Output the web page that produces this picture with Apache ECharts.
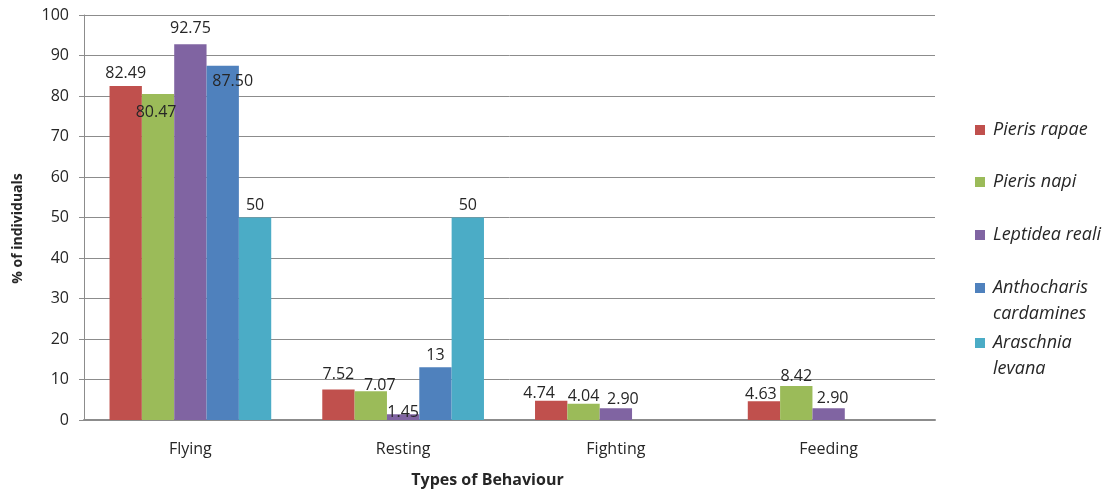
<!DOCTYPE html>
<html>
<head>
<meta charset="utf-8">
<script src="https://cdn.jsdelivr.net/npm/echarts@6/dist/echarts.min.js"></script>
<style>
  html, body { margin: 0; padding: 0; background: #fff; }
  #chart { width: 1108px; height: 490px; }
</style>
</head>
<body>
<div id="chart"></div>
<script>
// Behaviour categories and the share of individuals (%) per species
const categories = ['Flying', 'Resting', 'Fighting', 'Feeding'];
const pierisRapae = ['82.49', '7.52', '4.74', '4.63'];
const pierisNapi = ['80.47', '7.07', '4.04', '8.42'];
const leptideaReali = ['92.75', '1.45', '2.90', '2.90'];
const anthocharisCardamines = ['87.50', '13', null, null];
const araschniaLevana = ['50', '50', null, null];
const speciesNames = ['Pieris rapae', 'Pieris napi', 'Leptidea reali', 'Anthocharis cardamines', 'Araschnia levana'];
const yTicks = [0, 10, 20, 30, 40, 50, 60, 70, 80, 90, 100];

const FONT = '"Open Sans", Lato, sans-serif';
const TEXT = '#262626';
const colors = ['#C0504D', '#9BBB59', '#8064A2', '#4F81BD', '#4BACC6'];
const seriesValues = [pierisRapae, pierisNapi, leptideaReali, anthocharisCardamines, araschniaLevana];

// Nudges for labels that would otherwise collide
const labelOffsets = {
  '1-0': [-2, 30],
  '2-0': [0, -4],
  '3-0': [10, 28],
  '0-1': [0, -3],
  '1-1': [9, 6],
  '2-1': [0, 10],
  '0-2': [-12, 5],
  '1-2': [0, 5],
  '2-2': [7, 3],
  '0-3': [-3, 5],
  '1-3': [0, 3],
  '2-3': [4, 2]
};

const series = seriesValues.map((vals, s) => ({
  name: speciesNames[s],
  type: 'bar',
  barGap: 0,
  barCategoryGap: '24%',
  itemStyle: { color: colors[s] },
  data: vals.map((v, i) => {
    if (v === null) return null;
    const item = { value: Number(v) };
    const off = labelOffsets[s + '-' + i];
    if (off) item.label = { offset: off };
    return item;
  }),
  label: {
    show: true,
    position: 'top',
    distance: 4,
    color: TEXT,
    fontFamily: FONT,
    fontSize: 16,
    formatter: p => vals[p.dataIndex]
  }
}));

// One legend block per species so each entry sits at its own height.
// Two-line names get a leading blank line so the swatch lines up with the first line.
const legendTops = [112, 164, 217, 244, 299];
const legendLabels = ['Pieris rapae', 'Pieris napi', 'Leptidea reali', '\nAnthocharis\ncardamines', '\nAraschnia\nlevana'];
const legends = speciesNames.map((name, i) => ({
  left: 970,
  top: legendTops[i],
  orient: 'vertical',
  itemWidth: 10,
  itemHeight: 10,
  selectedMode: false,
  icon: 'rect',
  data: [name],
  formatter: () => legendLabels[i],
  textStyle: {
    fontFamily: FONT,
    fontStyle: 'italic',
    fontSize: 18,
    color: TEXT,
    lineHeight: 26,
    padding: [0, 0, 0, 3]
  }
}));

const chart = echarts.init(document.getElementById('chart'), null, { renderer: 'canvas' });
chart.setOption({
  animation: false,
  backgroundColor: '#ffffff',
  grid: { left: 84, right: 173, top: 15, bottom: 70, containLabel: false, outerBoundsMode: 'none' },
  legend: legends,
  xAxis: {
    type: 'category',
    data: categories,
    name: 'Types of Behaviour',
    nameLocation: 'middle',
    nameGap: 52,
    nameTextStyle: { fontFamily: FONT, fontWeight: 'bold', fontSize: 16, color: TEXT, padding: [0, 44, 0, 0] },
    axisLine: { show: true, lineStyle: { color: '#8c8c8c', width: 2 } },
    axisTick: { show: false },
    axisLabel: { fontFamily: FONT, fontSize: 16, color: TEXT, margin: 21 },
    splitLine: { show: false }
  },
  yAxis: {
    type: 'value',
    min: yTicks[0],
    max: yTicks[yTicks.length - 1],
    interval: yTicks[1] - yTicks[0],
    name: '% of individuals',
    nameLocation: 'middle',
    nameGap: 59,
    nameRotate: 90,
    nameTextStyle: { fontFamily: FONT, fontWeight: 'bold', fontSize: 14, color: TEXT, padding: [0, 22, 0, 0] },
    axisLine: { show: true, lineStyle: { color: '#8c8c8c', width: 1 } },
    axisTick: { show: true, length: 5, lineStyle: { color: '#8c8c8c' } },
    axisLabel: { fontFamily: FONT, fontSize: 16, color: TEXT, margin: 15 },
    splitLine: { show: true, lineStyle: { color: '#8c8c8c', width: 1 } }
  },
  series: series
});
</script>
</body>
</html>
